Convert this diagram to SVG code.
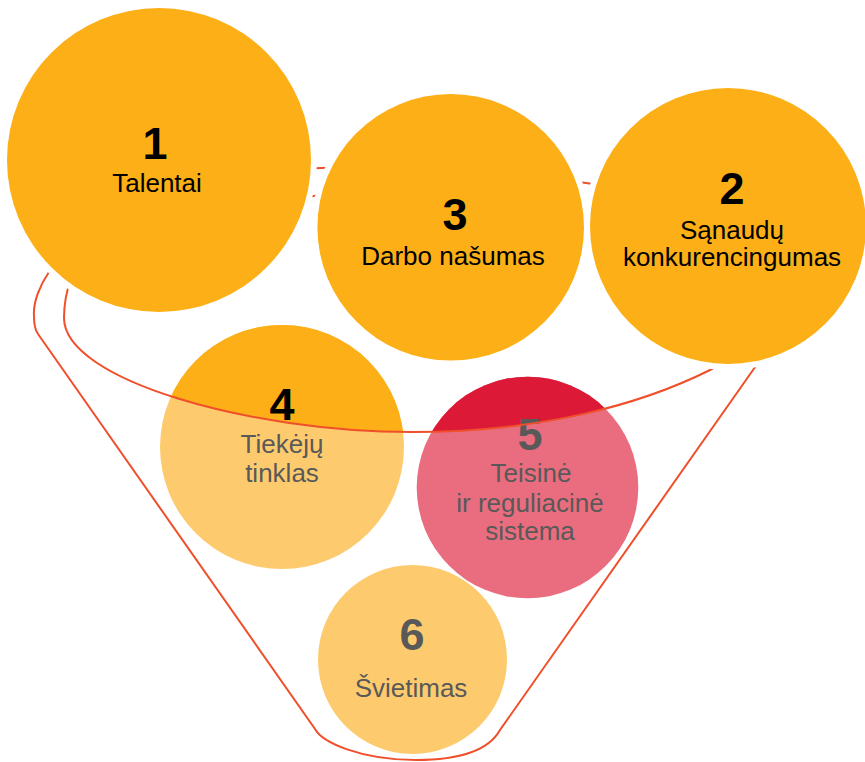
<svg xmlns="http://www.w3.org/2000/svg" width="865" height="762" viewBox="0 0 865 762">
<style>
.num{font-family:"Liberation Sans",Arial,sans-serif;font-weight:bold;font-size:45px;text-anchor:middle}
.lbl{font-family:"Liberation Sans",Arial,sans-serif;font-size:26px;text-anchor:middle}
.dark{fill:#000}
.grey{fill:#595959}
.halo{fill:#fff}
.org{fill:#FCAF17}
.lorg{fill:#FDCB6E}
.red{fill:#DC1937}
.pink{fill:#E96D7F}
.line{fill:none;stroke:#EF4F2A;stroke-width:2}
</style>
<defs>
<clipPath id="rim">
<path d="M90 240 C75 262 64 290 64 318 C64 380 250 432 412 432 C540 432 640 405 710 370 C740 355 765 330 765 300 C765 230 680 195 586 183 C500 172 400 165 321 168 C250 170 150 200 90 240 Z"/>
</clipPath>
</defs>
<g id="node4">
<circle class="lorg" cx="282" cy="447" r="122"/>
<circle class="org" cx="282" cy="447" r="122" clip-path="url(#rim)"/>
<text class="num dark" x="282" y="420">4</text>
<text class="lbl grey" x="282" y="453">Tiekėjų</text>
<text class="lbl grey" x="282" y="482">tinklas</text>
</g>
<g id="node5">
<circle class="pink" cx="527.5" cy="487.5" r="110.8"/>
<circle class="red" cx="527.5" cy="487.5" r="110.8" clip-path="url(#rim)"/>
<text class="num grey" x="530" y="450">5</text>
<text class="lbl grey" x="531" y="482">Teisinė</text>
<text class="lbl grey" x="530" y="512">ir reguliacinė</text>
<text class="lbl grey" x="530" y="540">sistema</text>
</g>
<g id="connectors">
<path class="line" d="M90 240 C75 262 64 290 64 318 C64 380 250 432 412 432 C540 432 640 405 710 370 C740 355 765 330 765 300 C765 230 680 195 586 183 C500 172 400 165 321 168 C250 170 150 200 90 240 Z"/>
<path class="line" d="M340 192 C250 205 90 235 49 272 C40 285 33 302 34 316 C34 324 35 330 38 334 L315 729 C322 742 360 760 416 760 C465 760 490 748 500 730 L753 370 L760 360"/>
</g>
<g id="node1">
<circle class="halo" cx="159" cy="160" r="158"/>
<circle class="org" cx="159" cy="160" r="152"/>
<text class="num dark" x="155" y="159">1</text>
<text class="lbl dark" x="157" y="192">Talentai</text>
</g>
<g id="node3">
<circle class="halo" cx="450.7" cy="227.3" r="139.3"/>
<circle class="org" cx="450.7" cy="227.3" r="133.3"/>
<text class="num dark" x="455" y="230">3</text>
<text class="lbl dark" x="453" y="265">Darbo našumas</text>
</g>
<g id="node2">
<circle class="halo" cx="728" cy="226" r="144"/>
<circle class="org" cx="728" cy="226" r="138"/>
<text class="num dark" x="732" y="204">2</text>
<text class="lbl dark" x="732" y="239">Sąnaudų</text>
<text class="lbl dark" x="732" y="266">konkurencingumas</text>
</g>
<g id="node6">
<circle class="lorg" cx="412.5" cy="659.5" r="94.5"/>
<text class="num grey" x="412" y="650">6</text>
<text class="lbl grey" x="411" y="697">Švietimas</text>
</g>
</svg>
